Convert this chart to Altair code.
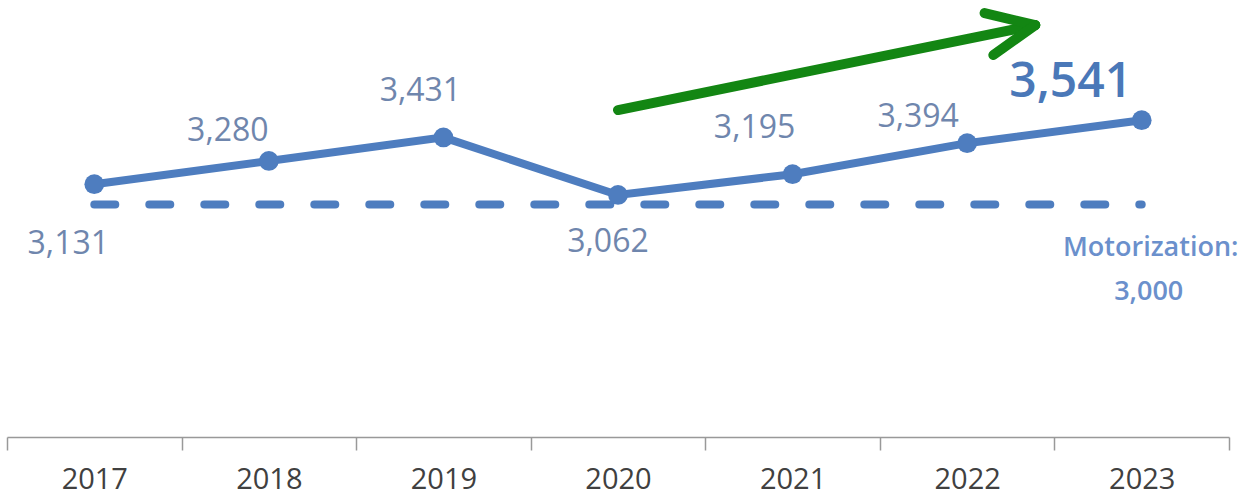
import altair as alt
import pandas as pd

# ---- data ----
years = [2017, 2018, 2019, 2020, 2021, 2022, 2023]
values = [3131, 3280, 3431, 3062, 3195, 3394, 3541]
threshold_value = 3000
threshold_label = "Motorization:"

# trend-arrow annotation (data units: year, value)
arrow_x1 = [2020.00, 2022.10, 2022.15]
arrow_y1 = [3606, 4228, 3959]
arrow_x2 = [2022.39, 2022.39, 2022.39]
arrow_y2 = [4151, 4151, 4151]

# ---- styling ----
FONT = "Open Sans"
LINE_COLOR = "#4e7dbf"
LABEL_COLOR = "#6f86ad"
label_dx = [-26, -41, -23, -10, -38, -49, -71]
label_dy = [60, -30, -46, 47, -46, -26, -37]

df = pd.DataFrame({"year": years, "value": values})
df["label"] = [f"{v:,}" for v in values]
thr = pd.DataFrame({"year0": [years[0]], "year1": [years[-1]], "value": [threshold_value],
                    "name": [threshold_label], "vlabel": [f"{threshold_value:,}"]})
arrow = pd.DataFrame({"x1": arrow_x1, "y1": arrow_y1, "x2": arrow_x2, "y2": arrow_y2})

xdom = [years[0] - 0.5, years[-1] + 0.5]
ydom = [1510, 4312]
edge_vals = [y - 0.5 for y in years] + [years[-1] + 0.5]

xscale = alt.Scale(domain=xdom, nice=False, zero=False)
yscale = alt.Scale(domain=ydom, nice=False, zero=False)

tick_axis = alt.Axis(
    values=edge_vals, title=None, grid=False, labels=False, orient="bottom",
    tickSize=13, tickColor="#999999", tickWidth=1.5,
    domainColor="#999999", domainWidth=1.5,
)
label_axis = alt.Axis(
    values=years, title=None, grid=False, ticks=False, domain=False, orient="bottom",
    format="d", labelFont=FONT, labelFontSize=29, labelColor="#404040",
    labelPadding=28, labelFlush=False, labelOverlap=False,
)

base = alt.Chart(df)
NOAX_X = lambda f: alt.X(f, scale=xscale, axis=None)
NOAX_Y = lambda f: alt.Y(f, scale=yscale, axis=None)

thr_rule = alt.Chart(thr).mark_rule(
    color=LINE_COLOR, strokeWidth=8, strokeDash=[21, 34], strokeCap="round"
).encode(x=alt.X("year0:Q", scale=xscale, axis=tick_axis), x2="year1:Q",
         y=NOAX_Y("value:Q"))

line = base.mark_line(color=LINE_COLOR, strokeWidth=8).encode(
    x=alt.X("year:Q", scale=xscale, axis=label_axis), y=NOAX_Y("value:Q"))
pts = base.mark_circle(color=LINE_COLOR, size=390, opacity=1).encode(
    x=NOAX_X("year:Q"), y=NOAX_Y("value:Q"))

layers = [thr_rule, line, pts]
for i, yr in enumerate(years):
    last = i == len(years) - 1
    t = base.transform_filter(alt.datum.year == yr).mark_text(
        font=FONT,
        fontSize=48 if last else 32,
        fontWeight=600 if last else "normal",
        color="#4a78b8" if last else LABEL_COLOR,
        align="center", baseline="middle",
        dx=label_dx[i], dy=label_dy[i],
    ).encode(x=NOAX_X("year:Q"), y=NOAX_Y("value:Q"), text="label:N")
    layers.append(t)

thr_name = alt.Chart(thr).mark_text(
    font=FONT, fontSize=27, fontWeight=600, color="#6b90cc",
    align="center", baseline="middle", dx=9, dy=43,
).encode(x=NOAX_X("year1:Q"), y=NOAX_Y("value:Q"), text="name:N")
thr_val = alt.Chart(thr).mark_text(
    font=FONT, fontSize=27, fontWeight=600, color="#6b90cc",
    align="center", baseline="middle", dx=7, dy=87,
).encode(x=NOAX_X("year1:Q"), y=NOAX_Y("value:Q"), text="vlabel:N")

arrow_marks = alt.Chart(arrow).mark_rule(
    color="#138613", strokeWidth=10, strokeCap="round"
).encode(x=NOAX_X("x1:Q"), y=NOAX_Y("y1:Q"), x2="x2:Q", y2="y2:Q")

layers += [thr_name, thr_val, arrow_marks]

chart = alt.layer(*layers).resolve_axis(x="independent").properties(
    width=1222, height=437,
    autosize=alt.AutoSizeParams(type="none"),
    padding={"left": 7, "top": 0, "right": 27, "bottom": 60},
    background="white",
).configure_view(stroke=None)

chart.save("out.html", embed_options={"renderer": "svg", "actions": False})
